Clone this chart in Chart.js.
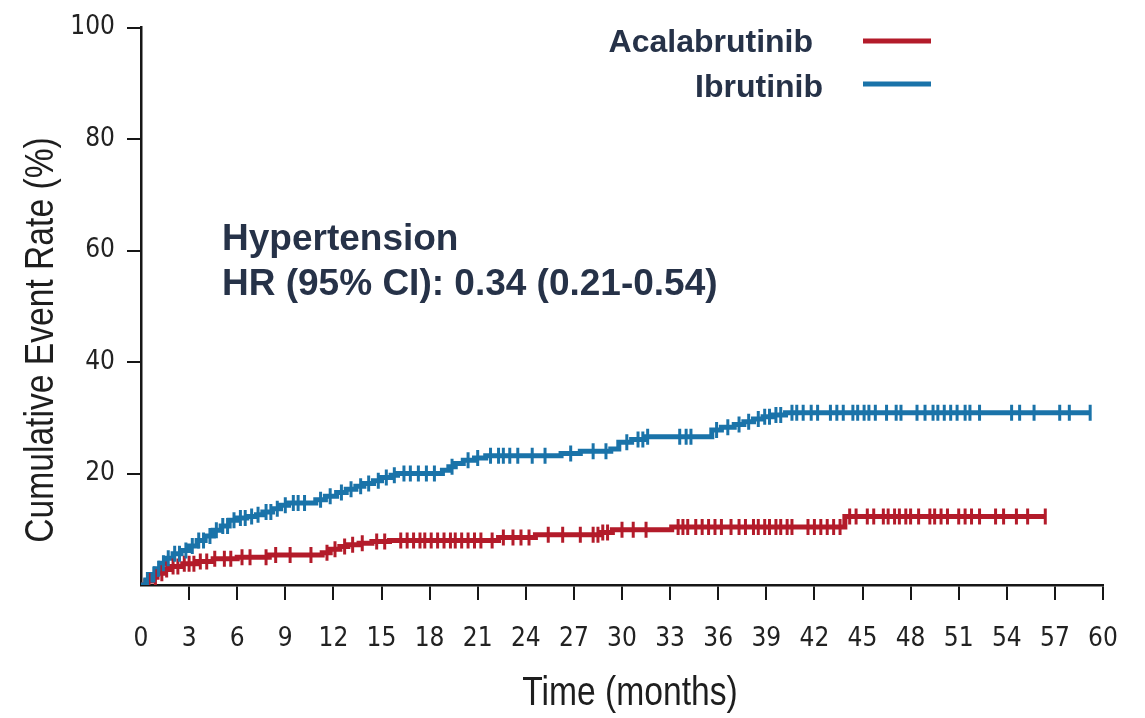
<!DOCTYPE html>
<html>
<head>
<meta charset="utf-8">
<script src="https://cdn.jsdelivr.net/npm/chart.js@4.4.1/dist/chart.umd.min.js"></script>
<style>
  html, body { margin: 0; padding: 0; background: #fff; }
  #wrap { width: 1145px; height: 718px; }
</style>
</head>
<body>
<div id="wrap"><canvas id="km"></canvas></div>
<script>
// Kaplan-Meier style cumulative event curves
const ibruTimes = [0, 0.3, 0.6, 0.9, 1.2, 1.5, 2.0, 2.5, 3.0, 3.5, 4.0, 4.5, 5.0, 5.5, 6.0, 6.6, 7.2, 7.6, 8.2, 8.7, 9.2, 10.9, 11.5, 12.2, 12.8, 13.4, 13.9, 14.5, 15.0, 15.6, 16.0, 18.8, 19.2, 19.6, 20.1, 20.8, 21.5, 26.2, 27.4, 29.3, 29.8, 30.6, 31.4, 35.6, 36.2, 37.0, 37.6, 38.2, 38.8, 39.4, 40.2, 59.2];
const ibruRates = [0, 0.9, 1.9, 2.9, 3.9, 4.8, 5.6, 6.2, 7.0, 8.0, 8.8, 9.8, 10.6, 11.6, 12.0, 12.3, 12.6, 13.1, 13.7, 14.3, 14.7, 15.3, 15.9, 16.6, 17.2, 17.7, 18.2, 18.7, 19.3, 19.7, 20.0, 20.6, 21.2, 21.8, 22.4, 22.8, 23.2, 23.6, 24.0, 24.4, 25.6, 26.1, 26.6, 27.8, 28.3, 28.8, 29.3, 29.8, 30.2, 30.5, 30.9, 30.9];

const acalaTimes = [0, 0.3, 0.7, 1.0, 1.4, 1.8, 2.6, 3.5, 4.5, 6.0, 8.0, 11.3, 11.8, 12.4, 12.9, 13.6, 14.4, 15.5, 22.3, 24.6, 28.6, 29.4, 33.1, 43.9, 56.4];
const acalaRates = [0, 0.7, 1.4, 2.1, 2.8, 3.3, 3.8, 4.2, 4.7, 5.0, 5.4, 5.8, 6.4, 6.9, 7.2, 7.5, 7.8, 8.0, 8.5, 9.0, 9.4, 9.9, 10.4, 12.3, 12.3];

// censoring times (tick marks)
const ibruCensored = [0.4, 0.8, 1.1, 1.4, 1.7, 2.1, 2.4, 2.8, 3.2, 3.6, 3.9, 4.3, 4.7, 5.1, 5.4, 5.8, 6.2, 6.5, 6.9, 7.3, 7.8, 8.1, 8.5, 9.0, 9.5, 9.8, 10.2, 11.2, 11.8, 12.5, 13.1, 13.7, 14.2, 14.8, 15.3, 15.8, 16.4, 16.8, 17.3, 17.8, 18.3, 19.4, 20.4, 21.0, 21.8, 22.3, 22.6, 23.0, 23.5, 24.4, 25.2, 26.8, 28.2, 29.0, 30.3, 31.0, 31.3, 31.6, 33.6, 34.0, 34.3, 35.9, 36.6, 37.3, 37.9, 38.5, 38.9, 39.2, 39.6, 39.9, 40.6, 40.9, 41.3, 41.8, 42.2, 43.0, 43.4, 43.8, 44.4, 44.7, 45.1, 45.4, 45.8, 46.5, 47.1, 47.4, 48.4, 48.9, 49.4, 49.7, 50.1, 50.5, 50.9, 51.4, 51.7, 52.3, 54.3, 54.8, 55.7, 57.3, 57.9, 59.2];
const acalaCensored = [0.5, 0.9, 1.3, 1.6, 2.0, 2.3, 2.7, 3.0, 3.3, 3.7, 4.1, 4.6, 5.2, 5.6, 6.3, 6.8, 7.8, 8.4, 9.3, 10.6, 11.6, 12.1, 12.7, 13.2, 13.8, 14.7, 15.2, 16.2, 16.6, 17.0, 17.4, 17.7, 18.1, 18.5, 18.9, 19.3, 19.6, 20.0, 20.4, 20.8, 21.2, 21.9, 22.6, 23.2, 23.7, 24.2, 25.4, 26.3, 27.4, 28.2, 28.5, 28.8, 29.1, 30.0, 30.7, 31.5, 33.5, 33.8, 34.1, 34.6, 35.0, 35.4, 35.8, 36.2, 36.8, 37.3, 37.7, 38.2, 38.5, 38.9, 39.2, 39.6, 39.9, 40.3, 40.6, 41.6, 42.0, 42.4, 42.8, 43.2, 43.6, 44.2, 44.6, 45.3, 45.7, 46.3, 46.6, 47.0, 47.3, 47.7, 48.0, 48.5, 49.2, 49.5, 49.9, 50.3, 51.0, 51.4, 51.8, 52.3, 53.3, 53.8, 54.6, 55.3, 56.4];

const xTicksMax = 60, xStep = 3;
const yTicksMax = 100, yStep = 20;

const RED = '#b31b2a', BLUE = '#1a73a9', INK = '#263248', AXIS = '#161616';
const NARROW = "'DejaVu Sans Condensed', 'Liberation Sans Narrow', sans-serif";
const SANS = "'Liberation Sans', Arial, sans-serif";

// value of the step curve at time t
function stepAt(times, vals, t) {
  let v = vals[0];
  for (let i = 0; i < times.length; i++) { if (times[i] <= t) v = vals[i]; }
  return v;
}
const pts = (ts, vs) => ts.map((t, i) => ({x: t, y: vs[i]}));
const marks = (cs, ts, vs) => cs.map(t => ({x: t, y: stepAt(ts, vs, t)}));

// condensed text: Liberation Sans squeezed horizontally
function narrowText(ctx, txt, x, y, rot) {
  ctx.save();
  ctx.translate(x, y);
  if (rot) ctx.rotate(rot);
  ctx.scale(0.82, 1);
  ctx.fillText(txt, 0, 0);
  ctx.restore();
}

// titles, annotation and legend drawn as text on the canvas
const textPlugin = {
  id: 'texts',
  afterDraw(chart) {
    const ctx = chart.ctx;
    ctx.save();
    ctx.fillStyle = '#1e1e1e';
    ctx.font = '41px ' + SANS;
    ctx.textAlign = 'center';
    ctx.textBaseline = 'alphabetic';
    narrowText(ctx, 'Time (months)', 630, 705);
    narrowText(ctx, 'Cumulative Event Rate (%)', 53, 340, -Math.PI / 2);

    ctx.fillStyle = INK;
    ctx.textAlign = 'left';
    ctx.font = 'bold 37px ' + SANS;
    ctx.fillText('Hypertension', 222, 250);
    ctx.fillText('HR (95% CI): 0.34 (0.21-0.54)', 222, 295);

    // legend
    const spots = [{right: 813, base: 52, lineY: 41}, {right: 823, base: 97, lineY: 84}];
    const legendSets = chart.data.datasets.filter(d => d.inLegend);
    ctx.font = 'bold 32px ' + SANS;
    ctx.textAlign = 'right';
    legendSets.forEach((d, i) => {
      const s = spots[i];
      ctx.fillStyle = INK;
      ctx.fillText(d.label, s.right, s.base);
      ctx.strokeStyle = d.borderColor;
      ctx.lineWidth = 5;
      ctx.beginPath();
      ctx.moveTo(863, s.lineY);
      ctx.lineTo(931, s.lineY);
      ctx.stroke();
    });
    ctx.restore();
  }
};

const tickColor = c => (c.tick && c.tick.value === 0) ? 'rgba(0,0,0,0)' : AXIS;

new Chart(document.getElementById('km'), {
  type: 'line',
  data: {
    datasets: [
      { label: 'Acalabrutinib', inLegend: true, data: pts(acalaTimes, acalaRates), stepped: true,
        borderColor: RED, borderWidth: 5, pointRadius: 0, order: 3 },
      { label: 'Ibrutinib', inLegend: true, data: pts(ibruTimes, ibruRates), stepped: true,
        borderColor: BLUE, borderWidth: 5, pointRadius: 0, order: 2 },
      { label: 'Acalabrutinib censored', data: marks(acalaCensored, acalaTimes, acalaRates), showLine: false,
        pointStyle: 'line', rotation: 90, pointRadius: 8, pointBorderWidth: 3, borderColor: RED, order: 1 },
      { label: 'Ibrutinib censored', data: marks(ibruCensored, ibruTimes, ibruRates), showLine: false,
        pointStyle: 'line', rotation: 90, pointRadius: 8, pointBorderWidth: 3, borderColor: BLUE, order: 0 }
    ]
  },
  options: {
    responsive: true,
    maintainAspectRatio: false,
    animation: false,
    layout: { padding: { top: 23, right: 42, left: 0, bottom: 0 } },
    plugins: { legend: { display: false }, tooltip: { enabled: false } },
    scales: {
      x: {
        type: 'linear', min: 0, max: xTicksMax,
        ticks: { stepSize: xStep, color: '#222', padding: 24, font: { family: NARROW, size: 26 } },
        grid: { drawOnChartArea: false, tickLength: 15, lineWidth: 2, color: tickColor },
        border: { color: AXIS, width: 2.5 },
        afterFit: s => { s.height = 133; }
      },
      y: {
        min: 0, max: yTicksMax,
        ticks: { stepSize: yStep, color: '#222', padding: 12, font: { family: NARROW, size: 26 },
                 callback: v => v === 0 ? '' : v },
        grid: { drawOnChartArea: false, tickLength: 14, lineWidth: 2, color: tickColor },
        border: { color: AXIS, width: 2.5 },
        afterFit: s => { s.width = 141; }
      }
    }
  },
  plugins: [textPlugin]
});
</script>
</body>
</html>
